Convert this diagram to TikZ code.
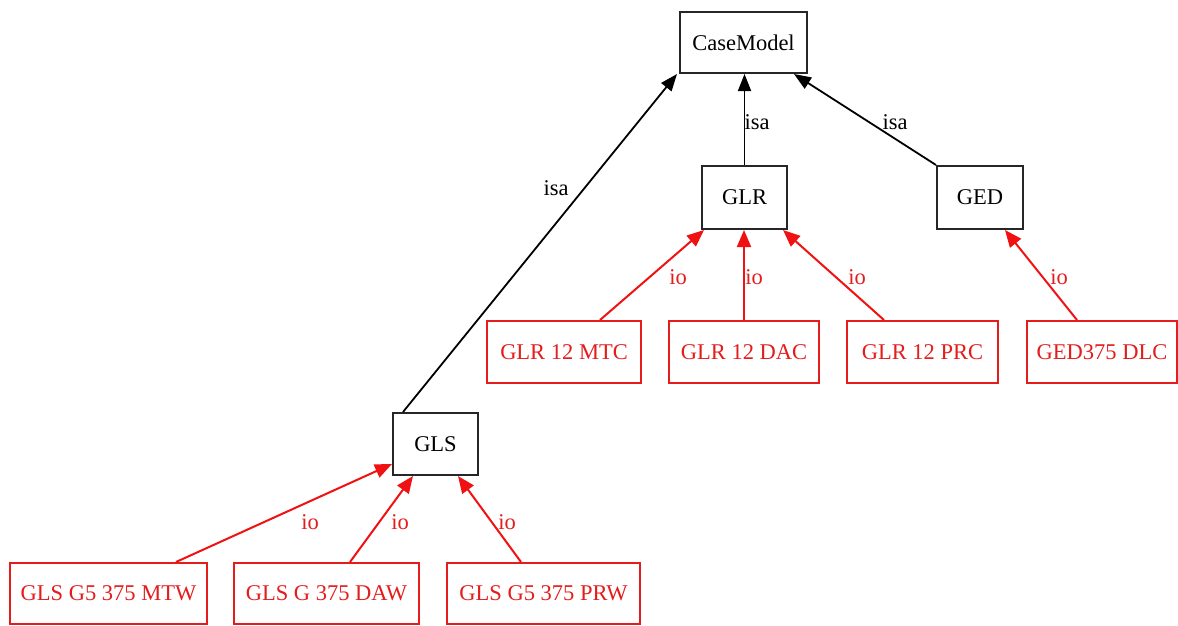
\documentclass[tikz,border=0pt]{standalone}
\usepackage{fontspec}
\setmainfont{Liberation Serif}
\usetikzlibrary{arrows.meta}
\definecolor{iored}{RGB}{228,28,28}
\definecolor{ioline}{RGB}{240,18,18}
\begin{document}
\begin{tikzpicture}[x=1pt,y=-1pt,
  box/.style={rectangle,inner sep=0pt,line width=2pt,font=\fontsize{22.5}{27}\selectfont},
  classbox/.style={box,draw=black!85,text=black},
  casebox/.style={box,draw=iored,text=iored},
  lbl/.style={inner sep=0pt,font=\fontsize{22.5}{27}\selectfont},
  isalbl/.style={lbl,text=black},
  iolbl/.style={lbl,text=iored},
  isaedge/.style={draw=black,line width=1.8pt,-{Triangle[length=17pt,width=13pt]}},
  ioedge/.style={draw=ioline,line width=2pt,-{Triangle[length=17pt,width=14pt]}}]
  % canvas
  \fill[white] (0,0) rectangle (1178,626);
  \useasboundingbox (0,0) rectangle (1178,626);

  % class hierarchy
  \node[classbox,minimum width=127pt,minimum height=61pt] (cm)  at (743.5,42.5) {CaseModel};
  \node[classbox,minimum width=85pt,minimum height=63pt]  (glr) at (744.5,197.5) {GLR};
  \node[classbox,minimum width=86pt,minimum height=63pt]  (ged) at (980,197.5) {GED};
  \node[classbox,minimum width=85pt,minimum height=62pt]  (gls) at (435.5,444) {GLS};

  % instances
  \node[casebox,minimum width=154pt,minimum height=62pt] (mtc) at (564,352) {GLR 12 MTC};
  \node[casebox,minimum width=150pt,minimum height=62pt] (dac) at (744,352) {GLR 12 DAC};
  \node[casebox,minimum width=151pt,minimum height=62pt] (prc) at (922.5,352) {GLR 12 PRC};
  \node[casebox,minimum width=150pt,minimum height=62pt] (dlc) at (1102,352) {GED375 DLC};
  \node[casebox,minimum width=197pt,minimum height=61pt] (mtw) at (108.5,593.5) {GLS G5 375 MTW};
  \node[casebox,minimum width=185pt,minimum height=61pt] (daw) at (326.5,593.5) {GLS G 375 DAW};
  \node[casebox,minimum width=193pt,minimum height=61pt] (prw) at (543.5,593.5) {GLS G5 375 PRW};

  % isa links
  \draw[isaedge] ([xshift=-32.5pt]gls.north) -- ([xshift=-2pt]cm.south west);
  \draw[isaedge] (glr.north) -- (glr.north |- cm.south);
  \draw[isaedge] (ged.north west) -- ([xshift=-14pt]cm.south east);
  \node[isalbl] (isa1) at (556,188) {isa};
  \node[isalbl] (isa2) at (757,122) {isa};
  \node[isalbl] (isa3) at (895,122) {isa};

  % io links
  \draw[ioedge] ([xshift=36pt]mtc.north) -- ([xshift=3pt]glr.south west);
  \draw[ioedge] (dac.north) -- (dac.north |- glr.south);
  \draw[ioedge] ([xshift=-38.5pt]prc.north) -- ([xshift=-5pt]glr.south east);
  \draw[ioedge] ([xshift=-25pt]dlc.north) -- ([xshift=25pt]ged.south);
  \draw[ioedge] ([xshift=67.5pt]mtw.north) -- ([yshift=12pt]gls.south west);
  \draw[ioedge] ([xshift=23.5pt]daw.north) -- ([xshift=-22.5pt]gls.south);
  \draw[ioedge] ([xshift=-22.5pt]prw.north) -- ([xshift=22.5pt]gls.south);
  \node[iolbl] (io1) at (678,277) {io};
  \node[iolbl] (io2) at (754,277) {io};
  \node[iolbl] (io3) at (857,277) {io};
  \node[iolbl] (io4) at (1059,277) {io};
  \node[iolbl] (io5) at (310,522) {io};
  \node[iolbl] (io6) at (400,522) {io};
  \node[iolbl] (io7) at (507,522) {io};
\end{tikzpicture}
\end{document}
